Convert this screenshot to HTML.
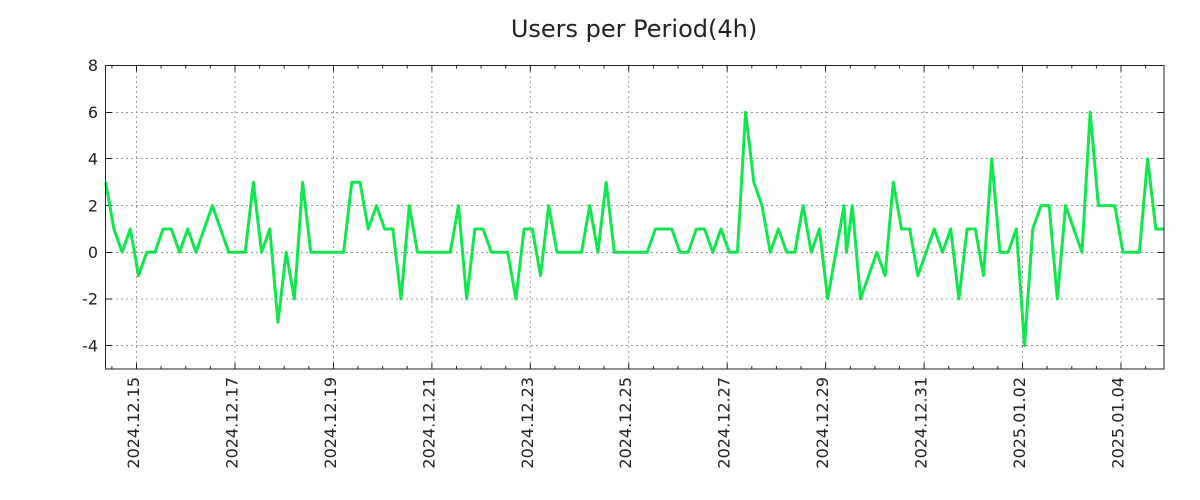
<!DOCTYPE html>
<html>
<head>
<meta charset="utf-8">
<style>
  html,body{margin:0;padding:0;background:#fff;}
  svg{display:block;}
  text{font-family:"DejaVu Sans","Liberation Sans",sans-serif;fill:#222;}
</style>
</head>
<body>
<svg width="1200" height="500" viewBox="0 0 1200 500" xmlns="http://www.w3.org/2000/svg">
  <rect x="0" y="0" width="1200" height="500" fill="#fff"/>
  <!-- title -->
  <text x="634" y="37" font-size="24" text-anchor="middle">Users per Period(4h)</text>

  <!-- grid -->
  <g stroke="#999" stroke-width="1" stroke-dasharray="2,3" fill="none">
    <path d="M106 345.5H1164 M106 299H1164 M106 252.5H1164 M106 205.5H1164 M106 158.5H1164 M106 112.5H1164"/>
    <path d="M136.5 66V369 M235 66V369 M333.5 66V369 M431.9 66V369 M530.3 66V369 M628.7 66V369 M727.2 66V369 M825.6 66V369 M924.1 66V369 M1022.5 66V369 M1121 66V369"/>
  </g>

  <!-- ticks -->
  <g stroke="#222" stroke-width="1" fill="none">
    <path d="M106 345.5h6 M106 299h6 M106 252.5h6 M106 205.5h6 M106 158.5h6 M106 112.5h6
             M1164 345.5h-6 M1164 299h-6 M1164 252.5h-6 M1164 205.5h-6 M1164 158.5h-6 M1164 112.5h-6"/>
    <path d="M111.9 369v-3 M161.1 369v-3 M185.7 369v-3 M210.3 369v-3 M259.6 369v-3 M284.2 369v-3 M308.8 369v-3 M358 369v-3 M382.6 369v-3 M407.2 369v-3 M456.5 369v-3 M481.1 369v-3 M505.7 369v-3 M554.9 369v-3 M579.5 369v-3 M604.1 369v-3 M653.4 369v-3 M678 369v-3 M702.6 369v-3 M751.8 369v-3 M776.4 369v-3 M801 369v-3 M850.3 369v-3 M874.9 369v-3 M899.5 369v-3 M948.7 369v-3 M973.3 369v-3 M997.9 369v-3 M1047.1 369v-3 M1071.8 369v-3 M1096.4 369v-3 M1145.6 369v-3"/>
    <path d="M111.9 65.5v3 M161.1 65.5v3 M185.7 65.5v3 M210.3 65.5v3 M259.6 65.5v3 M284.2 65.5v3 M308.8 65.5v3 M358 65.5v3 M382.6 65.5v3 M407.2 65.5v3 M456.5 65.5v3 M481.1 65.5v3 M505.7 65.5v3 M554.9 65.5v3 M579.5 65.5v3 M604.1 65.5v3 M653.4 65.5v3 M678 65.5v3 M702.6 65.5v3 M751.8 65.5v3 M776.4 65.5v3 M801 65.5v3 M850.3 65.5v3 M874.9 65.5v3 M899.5 65.5v3 M948.7 65.5v3 M973.3 65.5v3 M997.9 65.5v3 M1047.1 65.5v3 M1071.8 65.5v3 M1096.4 65.5v3 M1145.6 65.5v3"/>
    <path d="M136.5 369v-6 M235 369v-6 M333.5 369v-6 M431.9 369v-6 M530.3 369v-6 M628.7 369v-6 M727.2 369v-6 M825.6 369v-6 M924.1 369v-6 M1022.5 369v-6 M1121 369v-6
             M136.5 65.5v6 M235 65.5v6 M333.5 65.5v6 M431.9 65.5v6 M530.3 65.5v6 M628.7 65.5v6 M727.2 65.5v6 M825.6 65.5v6 M924.1 65.5v6 M1022.5 65.5v6 M1121 65.5v6"/>
  </g>

  <!-- data -->
  <g transform="translate(105.7,252.3) scale(8.204,-23.346)">
    <polyline fill="none" stroke="#12e64f" stroke-width="3" stroke-linejoin="round" vector-effect="non-scaling-stroke"
      points="0,3 1,1 2,0 3,1 4,-1 5,0 6,0 7,1 8,1 9,0 10,1 11,0 12,1 13,2 14,1 15,0 16,0 17,0 18,3 19,0 20,1 21,-3 22,0 23,-2 24,3 25,0 26,0 27,0 28,0 29,0 30,3 31,3 32,1 33,2 34,1 35,1 36,-2 37,2 38,0 39,0 40,0 41,0 42,0 43,2 44,-2 45,1 46,1 47,0 48,0 49,0 50,-2 51,1 52,1 53,-1 54,2 55,0 56,0 57,0 58,0 59,2 60,0 61,3 62,0 63,0 64,0 65,0 66,0 67,1 68,1 69,1 70,0 71,0 72,1 73,1 74,0 75,1 76,0 77,0 78,6 79,3 80,2 81,0 82,1 83,0 84,0 85,2 86,0 87,1 88,-2 89,0 90,2 90.3,0 91,2 92,-2 93,-1 94,0 95,-1 96,3 97,1 98,1 99,-1 100,0 101,1 102,0 103,1 104,-2 105,1 106,1 107,-1 108,4 109,0 110,0 111,1 112,-4 113,1 114,2 115,2 116,-2 117,2 118,1 119,0 120,6 121,2 122,2 123,2 124,0 125,0 126,0 127,4 128,1 129,1"/>
  </g>

  <!-- frame -->
  <rect x="105.5" y="65.5" width="1058.5" height="303.5" fill="none" stroke="#222" stroke-width="1"/>

  <!-- y labels -->
  <g font-size="16" text-anchor="end">
    <text x="98" y="71">8</text>
    <text x="98" y="118">6</text>
    <text x="98" y="164.5">4</text>
    <text x="98" y="211.3">2</text>
    <text x="98" y="258">0</text>
    <text x="98" y="304.7">-2</text>
    <text x="98" y="351.4">-4</text>
  </g>

  <!-- x labels -->
  <g font-size="16" text-anchor="end">
    <text transform="translate(139,377) rotate(-90)">2024.12.15</text>
    <text transform="translate(237.5,377) rotate(-90)">2024.12.17</text>
    <text transform="translate(336,377) rotate(-90)">2024.12.19</text>
    <text transform="translate(434.4,377) rotate(-90)">2024.12.21</text>
    <text transform="translate(532.8,377) rotate(-90)">2024.12.23</text>
    <text transform="translate(631.2,377) rotate(-90)">2024.12.25</text>
    <text transform="translate(729.7,377) rotate(-90)">2024.12.27</text>
    <text transform="translate(828.1,377) rotate(-90)">2024.12.29</text>
    <text transform="translate(926.6,377) rotate(-90)">2024.12.31</text>
    <text transform="translate(1025,377) rotate(-90)">2025.01.02</text>
    <text transform="translate(1123.5,377) rotate(-90)">2025.01.04</text>
  </g>
</svg>
</body>
</html>
